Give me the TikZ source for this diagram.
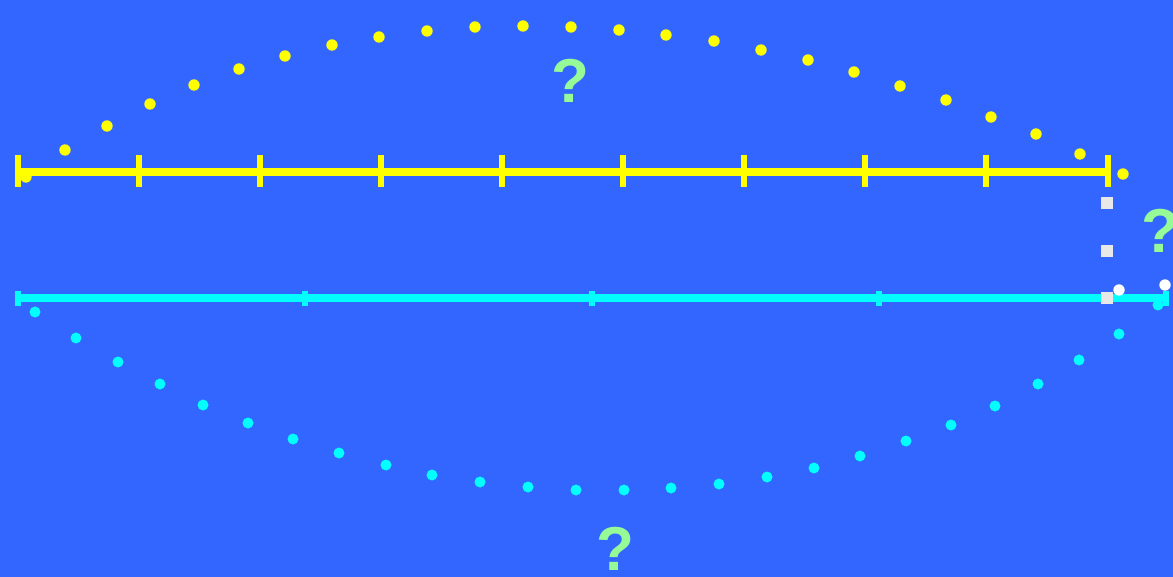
\documentclass[tikz,border=0pt]{standalone}
\usepackage{fontspec}
\setmainfont{Liberation Sans}
\definecolor{bgblue}{RGB}{51,102,255}
\definecolor{qgreen}{RGB}{150,250,150}
\definecolor{sqgray}{RGB}{232,232,232}
\definecolor{yel}{RGB}{255,255,0}
\definecolor{cya}{RGB}{0,255,255}
\tikzset{
  ydot/.style={fill=yel},
  cdot/.style={fill=cya},
  wdot/.style={fill=white},
  ybar/.style={draw=yel,line width=8pt},
  ytick/.style={draw=yel,line width=6pt},
  cbar/.style={draw=cya,line width=8pt},
  ctick/.style={draw=cya,line width=6pt},
  qmark/.style={text=qgreen,font=\fontsize{62}{62}\selectfont\bfseries,inner sep=0pt},
  sq/.style={fill=sqgray}
}
\begin{document}
\begin{tikzpicture}[x=1pt,y=-1pt]
\fill[bgblue] (0,0) rectangle (1173,577);
\useasboundingbox (0,0) rectangle (1173,577);
\clip (0,0) rectangle (1173,577);
% yellow dots
\foreach \x/\y in {26/177,65/150,107/126,150/104,194/85,239/69,285/56,332/45,379/37,427/31,475/27,523/26,571/27,619/30,666/35,714/41,761/50,808/60,854/72,900/86,946/100,991/117,1036/134,1080/154,1123/174}
  \fill[ydot] (\x,\y) circle (5.7);
% yellow scale
\draw[ybar] (18,172) -- (1108,172);
\foreach \x in {18,139,260,381,502,623,744,865,986,1108}
  \draw[ytick] (\x,155) -- (\x,187);
% cyan dots
\foreach \x/\y in {35/312,76/338,118/362,160/384,203/405,248/423,293/439,339/453,386/465,432/475,480/482,528/487,576/490,624/490,671/488,719/484,767/477,814/468,860/456,906/441,951/425,995/406,1038/384,1079/360,1119/334,1158/305}
  \fill[cdot] (\x,\y) circle (5.5);
% cyan scale
\draw[cbar] (15,298) -- (1169,298);
\foreach \x in {18,305,592,879,1166}
  \draw[ctick] (\x,291) -- (\x,306);
% gray squares
\foreach \y in {203,251,298}
  \fill[sq] (1101,\y-6) rectangle (1113,\y+6);
% white dots
\fill[wdot] (1119,290) circle (5.7);
\fill[wdot] (1165,285) circle (5.7);
% question marks
\node[qmark] (q1) at (570,81) {?};
\node[qmark] (q2) at (615,549) {?};
\node[qmark] (q3) at (1160,231) {?};
\end{tikzpicture}
\end{document}
